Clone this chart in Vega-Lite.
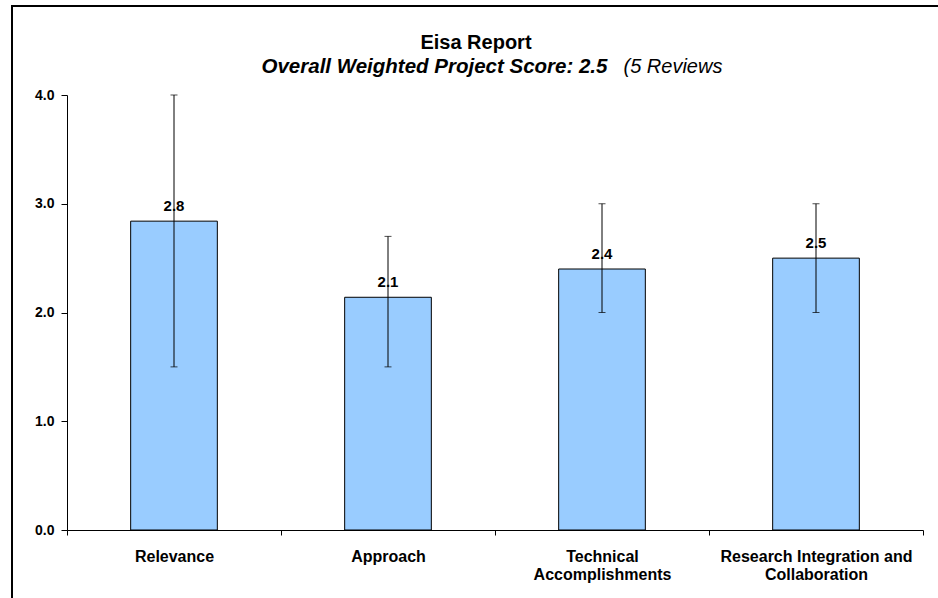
{
  "$schema": "https://vega.github.io/schema/vega-lite/v6.json",
  "width": 940,
  "height": 600,
  "autosize": {"type": "none"},
  "padding": {"left": 12, "top": 6, "right": 0, "bottom": 0},
  "background": "white",
  "title": {
    "text": "Eisa Report",
    "anchor": "middle",
    "frame": "group",
    "font": "Liberation Sans",
    "fontSize": 20,
    "fontWeight": "bold",
    "color": "black",
    "offset": -47,
    "dx": -6
  },
  "config": {
    "view": {"stroke": "black", "strokeWidth": 2},
    "font": "Liberation Sans"
  },
  "data": {
    "values": [
      {"criterion": "Relevance", "score": 2.84, "lo": 1.5, "hi": 4.0},
      {"criterion": "Approach", "score": 2.14, "lo": 1.5, "hi": 2.7},
      {"criterion": "Technical Accomplishments", "score": 2.4, "lo": 2.0, "hi": 3.0},
      {"criterion": "Research Integration and Collaboration", "score": 2.5, "lo": 2.0, "hi": 3.0}
    ]
  },
  "encoding": {
    "x": {
      "field": "criterion",
      "type": "nominal",
      "sort": null,
      "title": "(5 Reviews",
      "scale": {"type": "band", "range": [55, 911], "paddingInner": 0, "paddingOuter": 0},
      "axis": {
        "offset": -76,
        "tickBand": "extent",
        "tickSize": 5,
        "tickColor": "black",
        "domainColor": "black",
        "labelAngle": 0,
        "labelFont": "Liberation Sans",
        "labelFontSize": 16,
        "labelFontWeight": "bold",
        "labelColor": "black",
        "labelPadding": 13,
        "labelLineHeight": 18,
        "labelLimit": 0,
        "labelOverlap": false,
        "labelExpr": "datum.value == 'Technical Accomplishments' ? ['Technical', 'Accomplishments'] : datum.value == 'Research Integration and Collaboration' ? ['Research Integration and', 'Collaboration'] : datum.value",
        "titleX": 611,
        "titleY": -458,
        "titleAlign": "left",
        "titleAnchor": null,
        "titleBaseline": "alphabetic",
        "titleFont": "Liberation Sans",
        "titleFontSize": 20,
        "titleFontStyle": "italic",
        "titleFontWeight": "normal",
        "titleColor": "black"
      }
    }
  },
  "layer": [
    {
      "mark": {"type": "bar", "fill": "#99CCFF", "stroke": "black", "strokeWidth": 1, "width": {"band": 0.405}},
      "encoding": {
        "y": {
          "field": "score",
          "type": "quantitative",
          "title": "Overall Weighted Project Score: 2.5",
          "scale": {"domain": [0, 4], "range": [524, 89], "nice": false, "zero": false},
          "axis": {
            "offset": -55,
            "values": [0, 1, 2, 3, 4],
            "format": ".1f",
            "grid": false,
            "tickSize": 6,
            "tickColor": "black",
            "domainColor": "black",
            "labelFont": "Liberation Sans",
            "labelFontSize": 14,
            "labelFontWeight": "bold",
            "labelColor": "black",
            "labelPadding": 7,
            "titleAngle": 0,
            "titleX": 194,
            "titleY": 66,
            "titleAlign": "left",
            "titleAnchor": null,
            "titleBaseline": "alphabetic",
            "titleFont": "Liberation Sans",
            "titleFontSize": 20.5,
            "titleFontStyle": "italic",
            "titleFontWeight": "bold",
            "titleColor": "black"
          }
        }
      }
    },
    {
      "mark": {"type": "rule", "color": "black", "strokeWidth": 1},
      "encoding": {
        "y": {"field": "lo", "type": "quantitative", "title": "Overall Weighted Project Score: 2.5"},
        "y2": {"field": "hi"}
      }
    },
    {
      "mark": {"type": "tick", "color": "black", "size": 7, "thickness": 1},
      "encoding": {
        "y": {"field": "lo", "type": "quantitative", "title": "Overall Weighted Project Score: 2.5"}
      }
    },
    {
      "mark": {"type": "tick", "color": "black", "size": 7, "thickness": 1},
      "encoding": {
        "y": {"field": "hi", "type": "quantitative", "title": "Overall Weighted Project Score: 2.5"}
      }
    },
    {
      "mark": {"type": "text", "baseline": "alphabetic", "dy": -10, "font": "Liberation Sans", "fontSize": 15, "fontWeight": "bold", "color": "black"},
      "encoding": {
        "y": {"field": "score", "type": "quantitative", "title": "Overall Weighted Project Score: 2.5"},
        "text": {"field": "score", "type": "quantitative", "format": ".1f"}
      }
    }
  ]
}
